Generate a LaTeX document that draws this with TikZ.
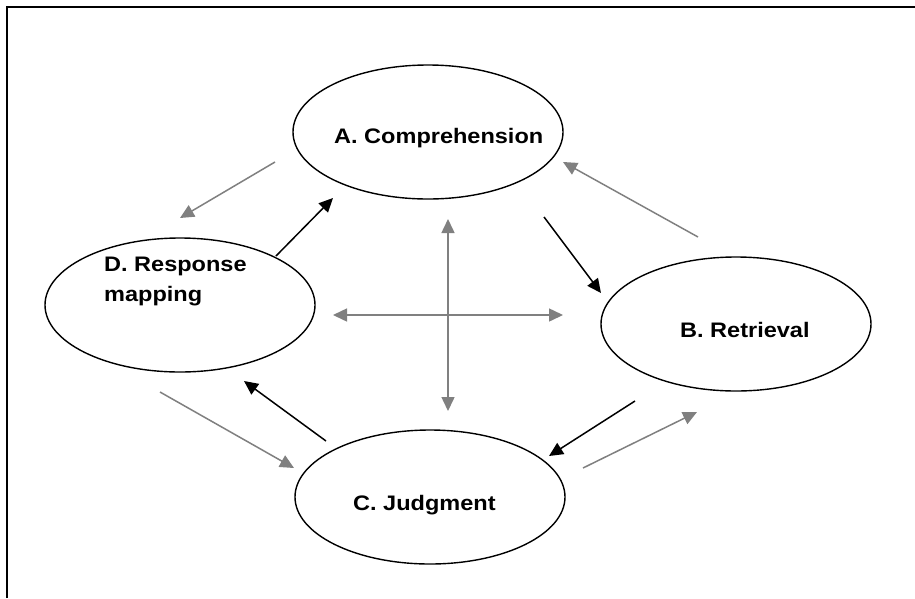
\documentclass[tikz,border=0pt]{standalone}
\usepackage{fontspec}
\setmainfont{Liberation Sans}[FakeStretch=1.12]
\usetikzlibrary{shapes.geometric,arrows.meta}
\definecolor{arrgray}{RGB}{128,128,128}
\begin{document}
\begin{tikzpicture}[x=1pt,y=-1pt,
  stage/.style={draw=black,line width=1.4pt,ellipse,minimum width=270pt,minimum height=134pt,inner sep=0pt},
  lbl/.style={anchor=base west,inner sep=0pt,font=\fontsize{21}{30}\selectfont\bfseries,align=left},
  garrow/.style={draw=arrgray,line width=1.5pt,-{Triangle[length=14pt,width=13pt]}},
  gdouble/.style={draw=arrgray,line width=1.5pt,{Triangle[length=14pt,width=13pt]}-{Triangle[length=14pt,width=13pt]}},
  barrow/.style={draw=black,line width=1.5pt,-{Triangle[length=14pt,width=13pt]}}]
\useasboundingbox (0,0) rectangle (915,598);
\fill[white] (0,0) rectangle (915,598);
\draw[line width=2.4pt] (7,598) -- (7,7) -- (915,7);
% ellipses
\node[stage] (A) at (428,132) {};
\node[stage] (B) at (736,324) {};
\node[stage] (C) at (430,497) {};
\node[stage] (D) at (180,305) {};
% labels
\node[lbl] (At) at (334,143) {A. Comprehension};
\node[lbl] (Bt) at (680,337) {B. Retrieval};
\node[lbl] (Ct) at (353,510) {C. Judgment};
\node[lbl] (Dt) at (104,301) {D. Response\\mapping};
% connector ends
\coordinate (ad1) at (275,162); \coordinate (ad2) at (180,218);
\coordinate (da1) at (276,256); \coordinate (da2) at (333,198);
\coordinate (ba1) at (698,237); \coordinate (ba2) at (563,162);
\coordinate (ab1) at (544,217); \coordinate (ab2) at (601,293);
\coordinate (v1) at (448,219); \coordinate (v2) at (448,411);
\coordinate (h1) at (333,315); \coordinate (h2) at (563,315);
\coordinate (dc1) at (160,392); \coordinate (dc2) at (294,468);
\coordinate (cd1) at (326,441); \coordinate (cd2) at (244,381);
\coordinate (bc1) at (635,401); \coordinate (bc2) at (549,456);
\coordinate (cb1) at (583,468); \coordinate (cb2) at (697,412);
% connectors
\draw[garrow] (ad1) -- (ad2);
\draw[barrow] (da1) -- (da2);
\draw[garrow] (ba1) -- (ba2);
\draw[barrow] (ab1) -- (ab2);
\draw[gdouble] (v1) -- (v2);
\draw[gdouble] (h1) -- (h2);
\draw[garrow] (dc1) -- (dc2);
\draw[barrow] (cd1) -- (cd2);
\draw[barrow] (bc1) -- (bc2);
\draw[garrow] (cb1) -- (cb2);
\end{tikzpicture}
\end{document}
